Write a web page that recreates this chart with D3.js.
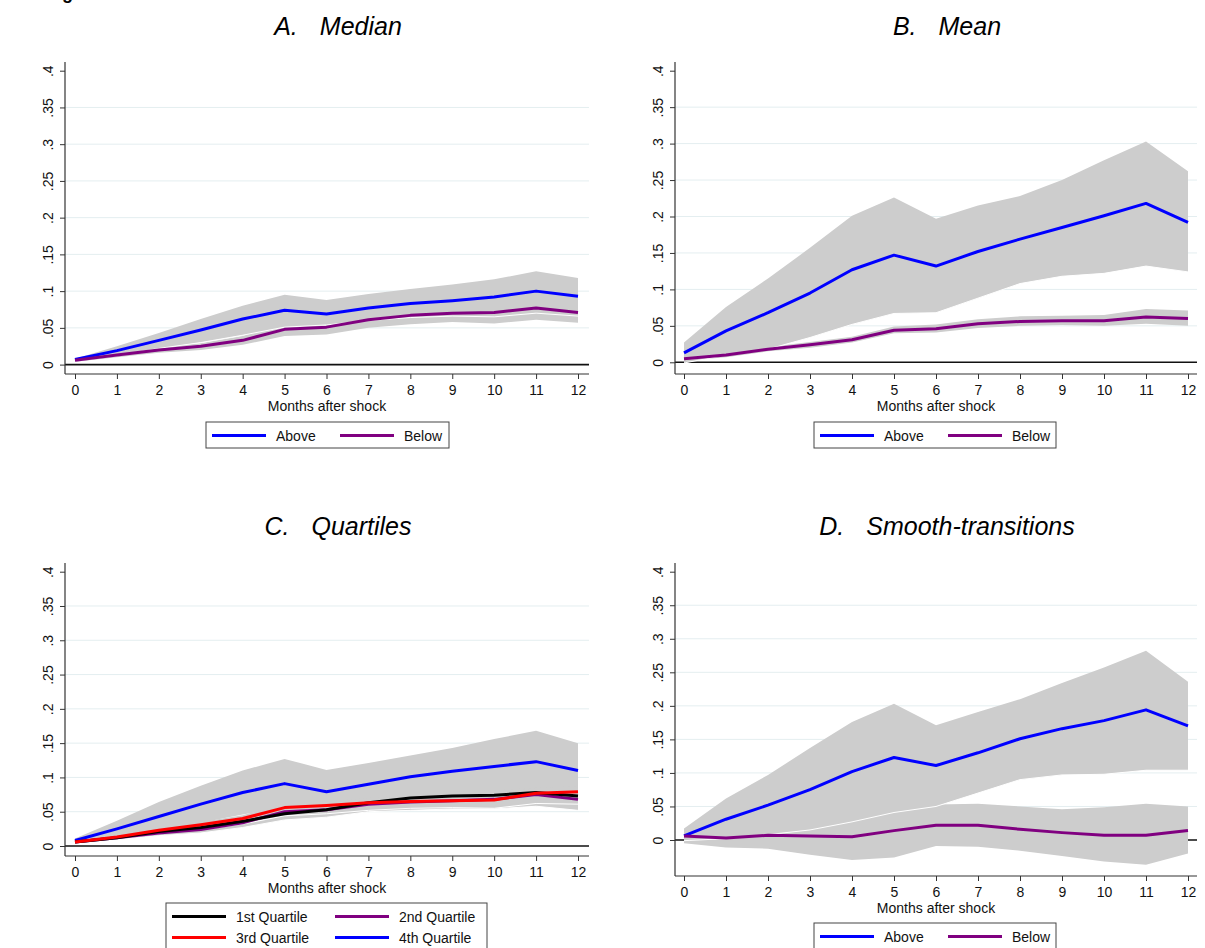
<!DOCTYPE html>
<html lang="en">
<head>
    <meta charset="UTF-8">
    <title>Responses after shock</title>
    <script src="https://d3js.org/d3.v7.min.js"></script>
    <style>
        body { margin: 0; background: #fff; }
        svg { display: block; font-family: "Liberation Sans", Arial, sans-serif; }
    </style>
    <script>
        // x categories and y ticks
        const months = [0, 1, 2, 3, 4, 5, 6, 7, 8, 9, 10, 11, 12];
        const yTickValues = [0, 0.05, 0.1, 0.15, 0.2, 0.25, 0.3, 0.35, 0.4];
        const yTickLabels = ["0", ".05", ".1", ".15", ".2", ".25", ".3", ".35", ".4"];
        const xTitle = "Months after shock";

        // A. Median
        const medianAbove   = [0.007, 0.019, 0.033, 0.047, 0.062, 0.074, 0.069, 0.077, 0.083, 0.087, 0.092, 0.100, 0.093];
        const medianAboveHi = [0.008, 0.025, 0.043, 0.062, 0.080, 0.095, 0.088, 0.096, 0.103, 0.109, 0.116, 0.127, 0.118];
        const medianAboveLo = [0.005, 0.012, 0.022, 0.030, 0.040, 0.051, 0.054, 0.060, 0.064, 0.066, 0.065, 0.070, 0.066];
        const medianBelow   = [0.006, 0.013, 0.020, 0.025, 0.033, 0.048, 0.051, 0.061, 0.067, 0.070, 0.071, 0.077, 0.071];
        const medianBelowHi = [0.007, 0.016, 0.024, 0.029, 0.039, 0.057, 0.061, 0.072, 0.079, 0.082, 0.086, 0.093, 0.085];
        const medianBelowLo = [0.004, 0.010, 0.016, 0.020, 0.027, 0.039, 0.041, 0.050, 0.055, 0.058, 0.056, 0.061, 0.057];

        // B. Mean
        const meanAbove   = [0.013, 0.043, 0.068, 0.095, 0.127, 0.147, 0.132, 0.152, 0.169, 0.185, 0.201, 0.218, 0.192];
        const meanAboveHi = [0.027, 0.076, 0.115, 0.157, 0.201, 0.226, 0.197, 0.215, 0.228, 0.250, 0.277, 0.303, 0.262];
        const meanAboveLo = [-0.001, 0.010, 0.018, 0.034, 0.052, 0.067, 0.068, 0.088, 0.108, 0.118, 0.122, 0.132, 0.124];
        const meanBelow   = [0.005, 0.010, 0.018, 0.024, 0.031, 0.044, 0.046, 0.053, 0.056, 0.057, 0.057, 0.062, 0.060];
        const meanBelowHi = [0.007, 0.013, 0.021, 0.028, 0.035, 0.049, 0.052, 0.059, 0.063, 0.064, 0.065, 0.073, 0.071];
        const meanBelowLo = [0.002, 0.007, 0.015, 0.020, 0.027, 0.040, 0.041, 0.047, 0.050, 0.051, 0.050, 0.053, 0.050];

        // C. Quartiles
        const q1   = [0.006, 0.012, 0.021, 0.027, 0.036, 0.047, 0.053, 0.063, 0.070, 0.073, 0.074, 0.078, 0.073];
        const q2   = [0.006, 0.012, 0.019, 0.024, 0.034, 0.050, 0.053, 0.061, 0.064, 0.066, 0.068, 0.075, 0.068];
        const q3   = [0.006, 0.013, 0.023, 0.031, 0.040, 0.056, 0.059, 0.063, 0.065, 0.066, 0.067, 0.077, 0.079];
        const q4   = [0.008, 0.025, 0.043, 0.061, 0.078, 0.091, 0.079, 0.090, 0.101, 0.109, 0.116, 0.123, 0.110];
        const q4Hi = [0.011, 0.037, 0.064, 0.088, 0.110, 0.127, 0.111, 0.121, 0.132, 0.143, 0.156, 0.168, 0.150];
        const q4Lo = [0.005, 0.014, 0.024, 0.034, 0.046, 0.056, 0.050, 0.060, 0.069, 0.075, 0.077, 0.078, 0.070];
        const q1Hi = [0.007, 0.014, 0.024, 0.030, 0.040, 0.051, 0.057, 0.068, 0.076, 0.079, 0.081, 0.085, 0.080];
        const q1Lo = [0.005, 0.010, 0.017, 0.022, 0.029, 0.040, 0.045, 0.053, 0.058, 0.060, 0.060, 0.064, 0.060];
        const q2Hi = [0.007, 0.014, 0.022, 0.028, 0.039, 0.056, 0.059, 0.068, 0.072, 0.074, 0.076, 0.084, 0.078];
        const q2Lo = [0.005, 0.009, 0.015, 0.019, 0.027, 0.038, 0.042, 0.050, 0.052, 0.054, 0.054, 0.058, 0.052];
        const q3Hi = [0.007, 0.015, 0.026, 0.035, 0.045, 0.062, 0.065, 0.070, 0.072, 0.073, 0.074, 0.085, 0.087];
        const q3Lo = [0.005, 0.010, 0.018, 0.024, 0.032, 0.044, 0.047, 0.052, 0.055, 0.056, 0.055, 0.062, 0.061];

        // D. Smooth-transitions
        const stAbove   = [0.006, 0.031, 0.052, 0.075, 0.102, 0.123, 0.111, 0.130, 0.151, 0.166, 0.178, 0.194, 0.170];
        const stAboveHi = [0.017, 0.062, 0.097, 0.137, 0.176, 0.203, 0.171, 0.191, 0.210, 0.234, 0.257, 0.282, 0.236];
        const stAboveLo = [-0.001, 0.002, 0.008, 0.015, 0.027, 0.041, 0.050, 0.070, 0.090, 0.097, 0.098, 0.104, 0.104];
        const stBelow   = [0.006, 0.003, 0.007, 0.006, 0.005, 0.014, 0.022, 0.022, 0.016, 0.011, 0.007, 0.007, 0.014];
        const stBelowHi = [0.012, 0.018, 0.026, 0.033, 0.040, 0.049, 0.053, 0.054, 0.050, 0.046, 0.049, 0.054, 0.050];
        const stBelowLo = [-0.005, -0.011, -0.013, -0.022, -0.030, -0.026, -0.009, -0.010, -0.016, -0.024, -0.032, -0.037, -0.020];

        const BLUE = "#0000ff", PURPLE = "#800080", RED = "#ff0000", BLACK = "#000000";
        const BAND = "#cdcdcd";

        document.addEventListener("DOMContentLoaded", () => makeGraph());

        function makeGraph() {
            const svg = d3.select("svg").attr("width", 1205).attr("height", 948);

            // figure caption, cut off by the top edge as in the source image
            svg.append("text").attr("x", 46).attr("y", -1)
                .style("font-weight", "bold").style("font-size", "18px").text("Figure 2");

            const panels = [
                {
                    letter: "A.", name: "Median", titleX: 338, titleY: 35,
                    left: 65, right: 589, x0: 75, x12: 578,
                    top: 62, bottom: 374, yZero: 364.6, yFour: 70.7,
                    bands: [
                        {lo: medianBelowLo, hi: medianBelowHi, edge: false},
                        {lo: medianAboveLo, hi: medianAboveHi, edge: true}
                    ],
                    lines: [{v: medianAbove, c: BLUE}, {v: medianBelow, c: PURPLE}],
                    legend: {x: 206, y: 422, w: 243, rows: [[["Above", BLUE], ["Below", PURPLE]]], col2: 128}
                },
                {
                    letter: "B.", name: "Mean", titleX: 947, titleY: 35,
                    left: 675, right: 1197, x0: 684, x12: 1188,
                    top: 62, bottom: 374, yZero: 362.3, yFour: 70.7,
                    bands: [
                        {lo: meanBelowLo, hi: meanBelowHi, edge: false},
                        {lo: meanAboveLo, hi: meanAboveHi, edge: true}
                    ],
                    lines: [{v: meanAbove, c: BLUE}, {v: meanBelow, c: PURPLE}],
                    legend: {x: 814, y: 422, w: 242, rows: [[["Above", BLUE], ["Below", PURPLE]]], col2: 128}
                },
                {
                    letter: "C.", name: "Quartiles", titleX: 338, titleY: 535,
                    left: 65, right: 589, x0: 75, x12: 578,
                    top: 563, bottom: 856, yZero: 846, yFour: 571.7,
                    bands: [
                        {lo: q4Lo, hi: q4Hi, edge: false},
                        {lo: q1Lo, hi: q1Hi, edge: true},
                        {lo: q2Lo, hi: q2Hi, edge: true},
                        {lo: q3Lo, hi: q3Hi, edge: true}
                    ],
                    lines: [{v: q4, c: BLUE}, {v: q2, c: PURPLE}, {v: q1, c: BLACK}, {v: q3, c: RED}],
                    legend: {x: 166, y: 903, w: 321, col2: 163,
                        rows: [[["1st Quartile", BLACK], ["2nd Quartile", PURPLE]],
                               [["3rd Quartile", RED], ["4th Quartile", BLUE]]]}
                },
                {
                    letter: "D.", name: "Smooth-transitions", titleX: 947, titleY: 535,
                    left: 675, right: 1197, x0: 684, x12: 1188,
                    top: 563, bottom: 876, yZero: 840, yFour: 571.7,
                    bands: [
                        {lo: stBelowLo, hi: stBelowHi, edge: false},
                        {lo: stAboveLo, hi: stAboveHi, edge: true}
                    ],
                    lines: [{v: stAbove, c: BLUE}, {v: stBelow, c: PURPLE}],
                    legend: {x: 814, y: 923, w: 242, rows: [[["Above", BLUE], ["Below", PURPLE]]], col2: 128}
                }
            ];

            panels.forEach(p => drawPanel(svg, p));
        }

        function drawPanel(svg, p) {
            const g = svg.append("g");

            // title
            const t = g.append("text").attr("x", p.titleX).attr("y", p.titleY)
                .attr("text-anchor", "middle").style("font-style", "italic")
                .style("font-size", "25px").attr("fill", "#000");
            t.append("tspan").text(p.letter);
            t.append("tspan").attr("dx", 22).text(p.name);

            const x = d3.scaleLinear().domain([0, 12]).range([p.x0, p.x12]);
            const y = d3.scaleLinear().domain([0, 0.4]).range([p.yZero, p.yFour]);

            // grid
            g.append("g").selectAll("line")
                .data(yTickValues.filter(v => v > 0 && v < 0.4))
                .enter().append("line")
                .attr("x1", p.left).attr("x2", p.right)
                .attr("y1", d => y(d)).attr("y2", d => y(d))
                .attr("stroke", "#e4eef0").attr("stroke-width", 1);

            // zero line
            g.append("line").attr("x1", p.left).attr("x2", p.right)
                .attr("y1", y(0)).attr("y2", y(0))
                .attr("stroke", "#111").attr("stroke-width", 1.6);

            const area = d3.area()
                .x((d, i) => x(months[i]))
                .y0(d => y(d[0]))
                .y1(d => y(d[1]));
            const line = d3.line()
                .x((d, i) => x(months[i]))
                .y(d => y(d));

            p.bands.forEach(b => {
                g.append("path")
                    .datum(b.lo.map((v, i) => [v, b.hi[i]]))
                    .attr("d", area)
                    .attr("fill", BAND);
                if (b.edge) {
                    g.append("path").datum(b.lo).attr("d", line)
                        .attr("fill", "none").attr("stroke", "#fff").attr("stroke-width", 1);
                }
            });

            p.lines.forEach(s => {
                g.append("path").datum(s.v).attr("d", line)
                    .attr("fill", "none").attr("stroke", s.c)
                    .attr("stroke-width", 3).attr("stroke-linejoin", "round");
            });

            // y axis
            const yAxis = g.append("g").attr("transform", `translate(${p.left},0)`)
                .call(d3.axisLeft(y).tickValues(yTickValues)
                    .tickFormat((d, i) => yTickLabels[i]).tickSize(5).tickSizeOuter(0));
            yAxis.select(".domain").remove();
            yAxis.selectAll(".tick line").attr("stroke", "#333");
            yAxis.selectAll(".tick text")
                .attr("x", null).attr("dy", null)
                .attr("text-anchor", "middle")
                .attr("transform", "translate(-12,0) rotate(-90)")
                .style("font-size", "14px").attr("fill", "#111");
            g.append("line").attr("x1", p.left).attr("x2", p.left)
                .attr("y1", p.top).attr("y2", p.bottom)
                .attr("stroke", "#333").attr("stroke-width", 1.2);

            // x axis
            const xAxis = g.append("g").attr("transform", `translate(0,${p.bottom})`)
                .call(d3.axisBottom(x).tickValues(months).tickFormat(d3.format("d"))
                    .tickSize(5).tickPadding(6).tickSizeOuter(0));
            xAxis.select(".domain").remove();
            xAxis.selectAll(".tick line").attr("stroke", "#333");
            xAxis.selectAll(".tick text").style("font-size", "14px").attr("fill", "#111");
            g.append("line").attr("x1", p.left).attr("x2", p.right)
                .attr("y1", p.bottom).attr("y2", p.bottom)
                .attr("stroke", "#333").attr("stroke-width", 1.2);

            g.append("text").attr("x", (p.left + p.right) / 2).attr("y", p.bottom + 37)
                .attr("text-anchor", "middle").style("font-size", "14px").attr("fill", "#111")
                .text(xTitle);

            // legend
            const L = p.legend;
            const h = 26 + (L.rows.length - 1) * 21;
            const lg = g.append("g").attr("transform", `translate(${L.x},${L.y})`);
            lg.append("rect").attr("width", L.w).attr("height", h)
                .attr("fill", "#fff").attr("stroke", "#444").attr("stroke-width", 1);
            L.rows.forEach((row, r) => {
                const cy = 13.5 + r * 21;
                row.forEach((item, c) => {
                    const ox = 6 + c * L.col2;
                    lg.append("line").attr("x1", ox).attr("x2", ox + 54)
                        .attr("y1", cy).attr("y2", cy)
                        .attr("stroke", item[1]).attr("stroke-width", 3);
                    lg.append("text").attr("x", ox + 64).attr("y", cy + 5)
                        .style("font-size", "14px").attr("fill", "#111").text(item[0]);
                });
            });
        }
    </script>
</head>
<body>
    <svg></svg>
</body>
</html>
